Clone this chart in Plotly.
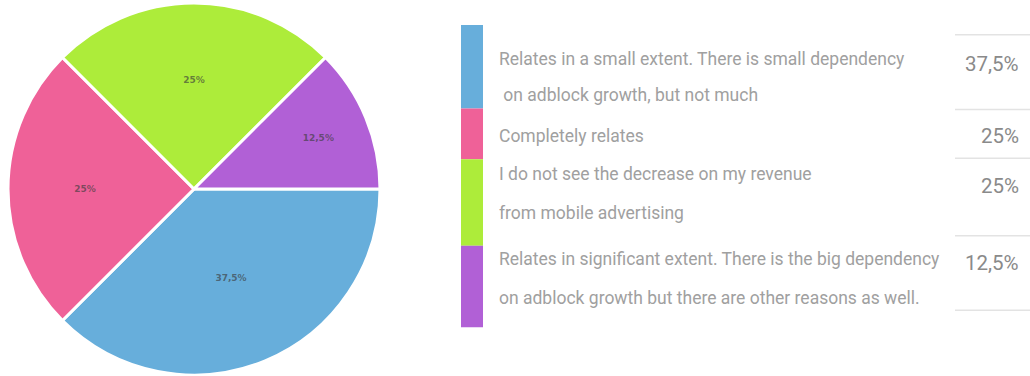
import plotly.graph_objects as go

# data
answers = [
    "Relates in a small extent. There is small dependency<br> on adblock growth, but not much",
    "Completely relates",
    "I do not see the decrease on my revenue<br>from mobile advertising",
    "Relates in significant extent. There is the big dependency<br>on adblock growth but there are other reasons as well.",
]
shares = [37.5, 25, 25, 12.5]
share_labels = ["37,5%", "25%", "25%", "12,5%"]
colors = ["#67AEDB", "#EF6198", "#ADEC3A", "#B160D6"]

W, H = 1030, 376

def px(x):
    return x / W

def py(y):
    return 1 - y / H

fig = go.Figure()
fig.add_trace(go.Pie(
    labels=answers,
    values=shares,
    text=share_labels,
    textinfo="text",
    textposition="inside",
    insidetextorientation="horizontal",
    textfont=dict(family="DejaVu Sans", size=9, color="rgba(60,60,60,0.65)", weight="bold"),
    marker=dict(colors=colors, line=dict(color="white", width=3)),
    sort=False,
    direction="clockwise",
    rotation=90,
    showlegend=False,
    hoverinfo="label+text",
    domain=dict(x=[px(8), px(380)], y=[0, 1]),
))

# legend table on the right
bar_x0, bar_x1 = 461, 483
row_edges = [23, 107, 158, 245, 327]
text_y = [(57, 93), (135,), (173, 212), (258, 298)]
value_y = [62, 135, 185, 262]
rule_y = [33, 108, 157, 235, 310]

font_txt = dict(family="Roboto, sans-serif", size=17.5, color="#a0a0a0")
font_val = dict(family="Roboto, sans-serif", size=20.5, color="#8a8a8a")

for i, (txt, lab, col) in enumerate(zip(answers, share_labels, colors)):
    fig.add_shape(type="rect", xref="paper", yref="paper",
                  x0=px(bar_x0), x1=px(bar_x1),
                  y0=py(row_edges[i + 1]), y1=py(row_edges[i]),
                  fillcolor=col, line=dict(width=0), layer="above")
    for j, line in enumerate(txt.split("<br>")):
        fig.add_annotation(x=px(497), y=py(text_y[i][j]), xref="paper", yref="paper",
                           text=line, showarrow=False, xanchor="left", yanchor="middle",
                           font=font_txt)
    fig.add_annotation(x=px(1021), y=py(value_y[i]), xref="paper", yref="paper",
                       text=lab, showarrow=False, xanchor="right", yanchor="middle",
                       font=font_val)

for ry in rule_y:
    fig.add_shape(type="line", xref="paper", yref="paper",
                  x0=px(955), x1=1, y0=py(ry), y1=py(ry),
                  line=dict(color="#e3e3e3", width=1.5))

fig.update_layout(
    width=W, height=H,
    margin=dict(l=0, r=0, t=2, b=0),
    paper_bgcolor="white",
    plot_bgcolor="white",
)
fig.write_html("out.html", config={"displayModeBar": False},
               post_script="document.body.style.margin='0';document.body.style.overflow='hidden';")
